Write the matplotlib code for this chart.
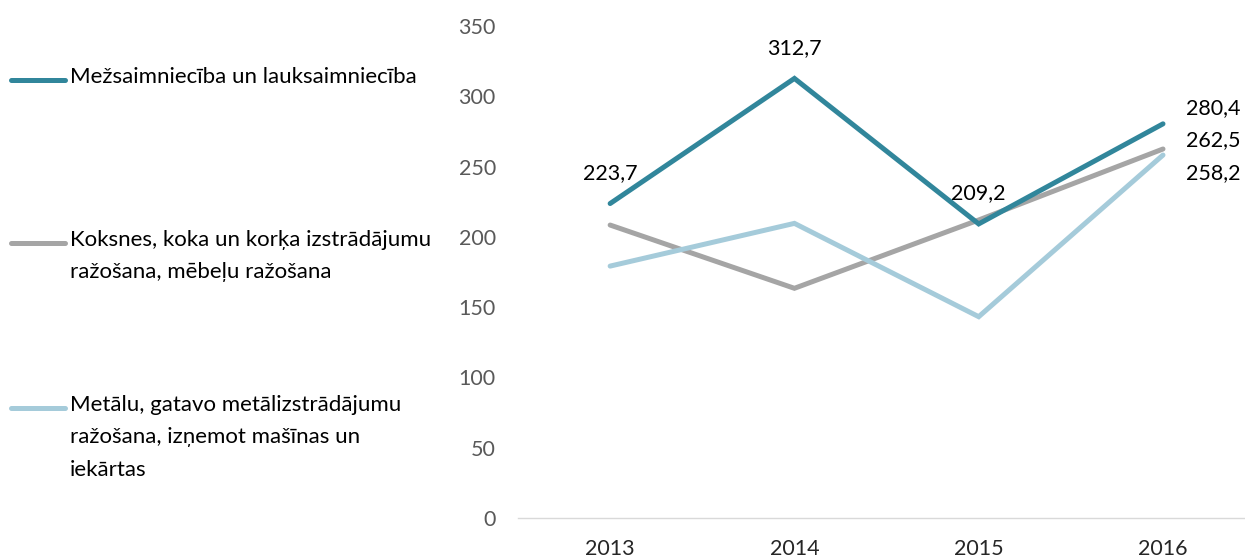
import matplotlib.pyplot as plt
import numpy as np

plt.rcParams["font.family"] = ["Lato", "DejaVu Sans"]

years = ["2013", "2014", "2015", "2016"]
mezsaimn = [223.7, 312.7, 209.2, 280.4]
koksnes = [208.4, 163.4, 212.0, 262.5]
metalu = [179.2, 209.6, 143.2, 258.2]

names = ["Mežsaimniecība un lauksaimniecība",
         "Koksnes, koka un korķa izstrādājumu\nražošana, mēbeļu ražošana",
         "Metālu, gatavo metālizstrādājumu\nražošana, izņemot mašīnas un\niekārtas"]
colors = ["#31869B", "#A5A5A5", "#A5CBDA"]

fig = plt.figure(figsize=(12.45, 5.59), dpi=100)
ax = fig.add_axes([518 / 1245, 41 / 559, 727 / 1245, 492 / 559])

x = np.arange(len(years))
ax.plot(x, koksnes, color=colors[1], lw=3.6, solid_capstyle="round", solid_joinstyle="miter")
ax.plot(x, metalu, color=colors[2], lw=3.6, solid_capstyle="round", solid_joinstyle="miter")
ax.plot(x, mezsaimn, color=colors[0], lw=3.6, solid_capstyle="round", solid_joinstyle="miter")

ax.set_xlim(-0.5, 3.445)
ax.set_ylim(0, 350)
ax.set_yticks(np.arange(0, 351, 50))
ax.set_xticks(x)
ax.set_xticklabels(years)
ax.tick_params(axis="both", length=0, labelsize=15.5)
ax.tick_params(axis="y", pad=16, labelcolor="#595959")
ax.tick_params(axis="x", pad=15, labelcolor="#262626")
for s in ["top", "right", "left"]:
    ax.spines[s].set_visible(False)
ax.spines["bottom"].set_color("#D9D9D9")
ax.spines["bottom"].set_linewidth(1)

def fmt(v):
    return f"{v:.1f}".replace(".", ",")

# labels of the teal series, centred above the points
for i in range(3):
    ax.annotate(fmt(mezsaimn[i]), (i, mezsaimn[i]), xytext=(0, 22), textcoords="offset points",
                ha="center", va="center", fontsize=15.5)
# 2016 labels on the right
ax.annotate(fmt(mezsaimn[3]), (3, mezsaimn[3]), xytext=(16.5, 11), textcoords="offset points",
            ha="left", va="center", fontsize=15.5)
ax.annotate(fmt(koksnes[3]), (3, koksnes[3]), xytext=(16.5, 6.5), textcoords="offset points",
            ha="left", va="center", fontsize=15.5)
ax.annotate(fmt(metalu[3]), (3, metalu[3]), xytext=(16.5, -13), textcoords="offset points",
            ha="left", va="center", fontsize=15.5)

# legend drawn by hand on the left
leg_y = [80, 243, 408]
for name, c, yy in zip(names, colors, leg_y):
    fy = 1 - yy / 559
    fig.add_artist(plt.Line2D([11 / 1245, 65 / 1245], [fy, fy], color=c, lw=3.6,
                              solid_capstyle="round"))
    fig.text(70 / 1245, fy + 13 / 559, name, ha="left", va="top", fontsize=16,
             linespacing=1.78, color="#000000")

fig.savefig("out.png", dpi=100)
